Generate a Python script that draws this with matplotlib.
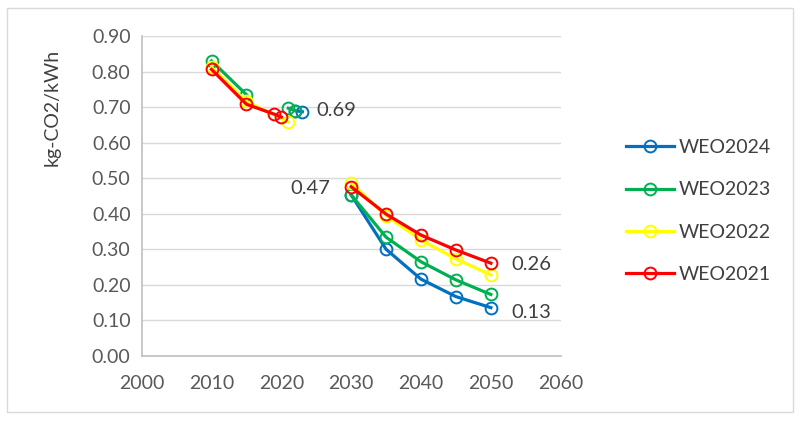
import matplotlib
matplotlib.use("Agg")
import matplotlib.pyplot as plt
import numpy as np

plt.rcParams['font.family'] = ['Lato', 'DejaVu Sans']

# Data (NaN = gap between historical and projected parts)
years_2024 = [2022, 2023, np.nan, 2030, 2035, 2040, 2045, 2050]
vals_2024 = [0.690, 0.687, np.nan, 0.453, 0.300, 0.216, 0.167, 0.136]

years_2023 = [2010, 2015, np.nan, 2021, 2022, np.nan, 2030, 2035, 2040, 2045, 2050]
vals_2023 = [0.830, 0.735, np.nan, 0.697, 0.690, np.nan, 0.453, 0.334, 0.265, 0.214, 0.173]

years_2022 = [2010, 2015, 2021, np.nan, 2030, 2035, 2040, 2045, 2050]
vals_2022 = [0.812, 0.716, 0.658, np.nan, 0.486, 0.395, 0.326, 0.273, 0.228]

years_2021 = [2010, 2015, 2019, 2020, np.nan, 2030, 2035, 2040, 2045, 2050]
vals_2021 = [0.806, 0.708, 0.680, 0.672, np.nan, 0.476, 0.399, 0.340, 0.298, 0.261]

series_names = ["WEO2024", "WEO2023", "WEO2022", "WEO2021"]
series_colors = ["#0070C0", "#00B050", "#FFFF00", "#FF0000"]

annotations = [(2023, 0.69, "0.69"), (2030, 0.47, "0.47"), (2050, 0.26, "0.26"), (2050, 0.13, "0.13")]

fig = plt.figure(figsize=(8, 4.23), dpi=100)
ax = fig.add_axes([0.1771, 0.1584, 0.7009 - 0.1771, 0.9149 - 0.1584])

# outer border
fig.patches.append(plt.Rectangle((7/800, 1-412/423), 786/800, 404/423, transform=fig.transFigure,
                                 fill=False, edgecolor="#d9d9d9", linewidth=1.0))

data = [(years_2024, vals_2024), (years_2023, vals_2023), (years_2022, vals_2022), (years_2021, vals_2021)]
for (xs, ys), name, c in zip(data, series_names, series_colors):
    ax.plot(xs, ys, color=c, linewidth=2.3, marker='o', markersize=8.5,
            markerfacecolor='none', markeredgecolor=c, markeredgewidth=1.4, label=name)

ax.set_xlim(2000, 2060)
ax.set_ylim(0, 0.9)
ax.set_xticks(np.arange(2000, 2061, 10))
ax.set_yticks(np.arange(0, 0.91, 0.1))
ax.set_yticklabels([f"{v:.2f}" for v in np.arange(0, 0.91, 0.1)])
ax.tick_params(length=0, labelsize=14, colors="#595959", pad=8)
ax.tick_params(axis='x', pad=14)
ax.grid(axis='y', color="#d9d9d9", linewidth=1.0)
ax.set_axisbelow(True)
for s in ['top', 'right']:
    ax.spines[s].set_visible(False)
for s in ['left', 'bottom']:
    ax.spines[s].set_color("#bfbfbf")
    ax.spines[s].set_linewidth(1.2)

fig.text(52/800, 1-107/423, "kg-CO2/kWh", rotation=90, ha='center', va='center',
         fontsize=14, color="#404040")

# data labels
offsets = {"0.69": (10, 0, 'left'), "0.47": (-15, 0, 'right'), "0.26": (15, -1, 'left'), "0.13": (15, -2, 'left')}
for x, y, t in annotations:
    dx, dy, ha = offsets[t]
    ax.annotate(t, (x, y), xytext=(dx, dy), textcoords='offset points', ha=ha, va='center',
                fontsize=14.5, color="#404040")

fig.legend(loc='center left', bbox_to_anchor=(608/800, 1-211/423), frameon=False,
           fontsize=14, labelcolor="#404040", handlelength=2.5, labelspacing=1.3,
           handletextpad=0.25)

fig.savefig("out.png", dpi=100)
